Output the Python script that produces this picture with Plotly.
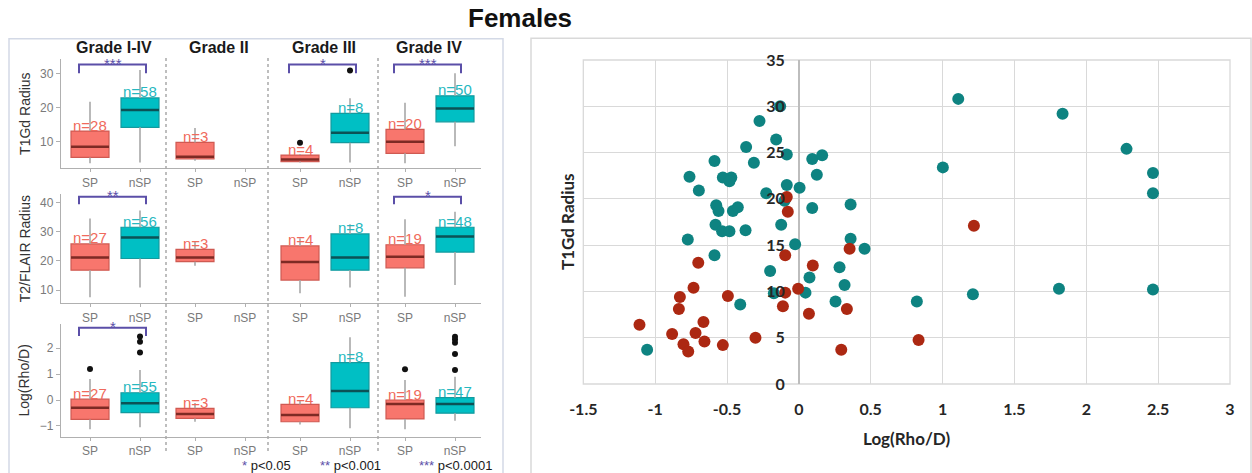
import plotly.graph_objects as go

W, H = 1252, 473

# ---------------- Left panel data (box plots) ----------------
facets = ["Grade I-IV", "Grade II", "Grade III", "Grade IV"]
groups = ["SP", "nSP"]
row_titles = ["T1Gd Radius", "T2/FLAIR Radius", "Log(Rho/D)"]
row_ticks = [[10, 20, 30], [10, 20, 30, 40], [-1, 0, 1, 2]]

# stats per facet: [lower whisker, q1, median, q3, upper whisker]; None = no data
t1_sp = [[3.7, 5.4, 8.5, 13.1, 21.7], [4.4, 5.0, 5.6, 9.8, 14.0],
         [3.9, 4.2, 4.8, 6.1, 6.4], [3.7, 6.6, 10.0, 13.6, 21.4]]
t1_nsp = [[3.9, 14.2, 19.3, 22.8, 31.0], None,
          [3.9, 9.7, 12.6, 18.3, 22.7], [8.7, 15.8, 19.7, 23.4, 30.0]]
t1_n_sp = [28, 3, 4, 20]
t1_n_nsp = [58, None, 8, 50]
t1_out_sp = [[], [], [9.7], []]
t1_out_nsp = [[], [], [30.8], []]

t2_sp = [[7.5, 16.8, 21.1, 25.8, 34.5], [18.3, 19.7, 21.1, 23.9, 26.7],
         [8.9, 13.4, 19.6, 25.1, 27.7], [7.7, 17.6, 21.4, 25.5, 34.2]]
t2_nsp = [[10.9, 20.8, 28.0, 31.5, 37.2], None,
          [10.9, 16.8, 21.1, 29.2, 32.5], [11.7, 23.0, 28.3, 31.5, 36.8]]
t2_n_sp = [27, 3, 4, 19]
t2_n_nsp = [56, None, 8, 48]
t2_out_sp = [[], [], [], []]
t2_out_nsp = [[], [], [], []]

lr_sp = [[-1.13, -0.75, -0.30, 0.03, 0.81], [-0.84, -0.71, -0.54, -0.32, -0.12],
         [-0.95, -0.84, -0.58, -0.17, -0.02], [-1.13, -0.73, -0.15, 0.0, 0.77]]
lr_nsp = [[-1.05, -0.49, -0.13, 0.28, 1.16], None,
          [-1.09, -0.30, 0.35, 1.44, 2.42], [-0.80, -0.51, -0.15, 0.09, 0.90]]
lr_n_sp = [27, 3, 4, 19]
lr_n_nsp = [55, None, 8, 47]
lr_out_sp = [[1.2], [], [], [1.19]]
lr_out_nsp = [[1.83, 2.25, 2.45], [], [], [1.16, 1.78, 2.21, 2.34, 2.44]]

# significance brackets: (facet index, stars)
t1_sig = [(0, "***"), (2, "*"), (3, "***")]
t2_sig = [(0, "**"), (3, "*")]
lr_sig = [(0, "*")]
sig_legend = [("*", "p<0.05"), ("**", "p<0.001"), ("***", "p<0.0001")]

# ---------------- Right panel data (scatter) ----------------
nsp_x = [-0.13, -0.274, -0.158, -0.367, -0.084, 0.093, 0.162, -0.587, -0.313, -0.761,
         0.125, -0.529, -0.47, -0.483, -0.696, -0.084, 0.005, -0.227, -0.1, -0.575,
         -0.559, -0.459, -0.425, 0.093, 0.36, -0.58, -0.534, -0.483, -0.371, -0.123,
         -0.773, 0.36, -0.026, 0.457, -0.587, -0.2, 0.283, 0.074, 0.318, 0.046,
         -0.174, 0.255, -0.408, -1.056, 1.109, 1.835, 2.28, 1.002, 2.464, 2.464,
         0.821, 1.211, 1.81, 2.464]
nsp_y = [30.0, 28.4, 26.4, 25.6, 24.8, 24.3, 24.7, 24.1, 23.9, 22.4,
         22.6, 22.3, 22.3, 21.9, 20.9, 21.5, 21.2, 20.6, 19.8, 19.3,
         18.7, 18.7, 19.1, 19.0, 19.4, 17.2, 16.5, 16.5, 16.6, 17.2,
         15.6, 15.7, 15.1, 14.6, 13.9, 12.2, 12.6, 11.5, 10.7, 9.87,
         9.8, 8.9, 8.6, 3.7, 30.8, 29.2, 25.4, 23.4, 22.8, 20.6,
         8.9, 9.7, 10.3, 10.2]
sp_x = [-0.084, -0.077, -0.095, 0.097, 0.353, -0.70, -0.733, -0.005, -0.095, -0.494,
        -0.828, -0.835, -0.111, 0.334, 0.07, -1.109, -0.664, -0.882, -0.719, -0.657,
        -0.803, -0.77, -0.529, -0.302, 0.295, 1.218, 0.833]
sp_y = [20.2, 18.6, 13.9, 12.8, 14.6, 13.1, 10.4, 10.3, 9.87, 9.5,
        9.4, 8.1, 8.4, 8.1, 7.6, 6.4, 6.7, 5.4, 5.5, 4.6,
        4.3, 3.5, 4.2, 5.0, 3.7, 17.1, 4.75]
x_tick_vals = [-1.5, -1, -0.5, 0, 0.5, 1, 1.5, 2, 2.5, 3]
x_tick_text = ["-1.5", "-1", "-0.5", "0", "0.5", "1", "1.5", "2", "2.5", "3"]
y_tick_vals = [0, 5, 10, 15, 20, 25, 30, 35]

# ---------------- styling ----------------
def px(v):
    return v / W

def py(v):
    return 1 - v / H

SP_FILL, SP_LINE, SP_MED, SP_TXT = "#F8766D", "#cf5a52", "#7e2a24", "#f06a5c"
NSP_FILL, NSP_LINE, NSP_MED, NSP_TXT = "#00BFC4", "#139a9e", "#0b5256", "#27b8c0"
WHISK = "#a8a8a8"
AXC = "#b0b0b0"
TICKC = "#7a7a7a"
PURPLE = "#5b4fa8"
TEAL = "#0e8381"
RED = "#ac2812"
FACET_W = 105
GROUP_OFF = {"SP": 29, "nSP": 79}
BOX_W = 38
ARIAL = "Liberation Sans, Arial"

rows = [
    dict(sp=t1_sp, nsp=t1_nsp, n_sp=t1_n_sp, n_nsp=t1_n_nsp, out_sp=t1_out_sp,
         out_nsp=t1_out_nsp, sig=t1_sig, br=(30.0, 32.6),
         dom=(168.3, 59), rng=[2.22, 34.18]),
    dict(sp=t2_sp, nsp=t2_nsp, n_sp=t2_n_sp, n_nsp=t2_n_nsp, out_sp=t2_out_sp,
         out_nsp=t2_out_nsp, sig=t2_sig, br=(39.4, 41.9),
         dom=(303.3, 194), rng=[5.45, 42.88]),
    dict(sp=lr_sp, nsp=lr_nsp, n_sp=lr_n_sp, n_nsp=lr_n_nsp, out_sp=lr_out_sp,
         out_nsp=lr_out_nsp, sig=lr_sig, br=(2.47, 2.79),
         dom=(436.7, 324), rng=[-1.417, 2.934]),
]

fig = go.Figure()
annotations = []
shapes = []

def pos(f, g):
    return f * FACET_W + GROUP_OFF[g]

for r, row in enumerate(rows):
    xa = "x" if r == 0 else f"x{r+1}"
    ya = "y" if r == 0 else f"y{r+1}"
    for g, stats, ns, outs, fill, lc, mc, tc in [
        ("SP", row["sp"], row["n_sp"], row["out_sp"], SP_FILL, SP_LINE, SP_MED, SP_TXT),
        ("nSP", row["nsp"], row["n_nsp"], row["out_nsp"], NSP_FILL, NSP_LINE, NSP_MED, NSP_TXT),
    ]:
        xs, q1, med, q3 = [], [], [], []
        wx, wy, mx, my, ox, oy = [], [], [], [], [], []
        for f, s in enumerate(stats):
            if s is None:
                continue
            x = pos(f, g)
            xs.append(x); q1.append(s[1]); med.append(s[2]); q3.append(s[3])
            wx += [x, x, None, x, x, None]
            wy += [s[0], s[1], None, s[3], s[4], None]
            mx += [x - BOX_W / 2, x + BOX_W / 2, None]
            my += [s[2], s[2], None]
            for o in outs[f]:
                ox.append(x); oy.append(o)
            annotations.append(dict(x=x, y=s[3], xref=xa, yref=ya, text=f"n={ns[f]}",
                                    showarrow=False, xanchor="center", yanchor="middle", yshift=6,
                                    font=dict(family=ARIAL, size=15, color=tc)))
        fig.add_trace(go.Scatter(x=wx, y=wy, mode="lines", line=dict(color=WHISK, width=1.6),
                                 xaxis=xa, yaxis=ya, showlegend=False, hoverinfo="skip"))
        fig.add_trace(go.Box(x=xs, q1=q1, median=med, q3=q3, lowerfence=q1, upperfence=q3,
                             width=BOX_W, fillcolor=fill, line=dict(color=lc, width=1.2),
                             whiskerwidth=0, boxpoints=False, xaxis=xa, yaxis=ya,
                             showlegend=False, hoverinfo="skip"))
        fig.add_trace(go.Scatter(x=mx, y=my, mode="lines", line=dict(color=mc, width=2.5),
                                 xaxis=xa, yaxis=ya, showlegend=False, hoverinfo="skip"))
        if ox:
            fig.add_trace(go.Scatter(x=ox, y=oy, mode="markers",
                                     marker=dict(color="#111111", size=6),
                                     xaxis=xa, yaxis=ya, showlegend=False, hoverinfo="skip"))
    # significance brackets
    lo, hi = row["br"]
    for f, stars in row["sig"]:
        x0 = pos(f, "SP") - 11
        x1 = pos(f, "nSP") + 6
        fig.add_trace(go.Scatter(x=[x0, x0, x1, x1], y=[lo, hi, hi, lo], mode="lines",
                                 line=dict(color=PURPLE, width=2), xaxis=xa, yaxis=ya,
                                 showlegend=False, hoverinfo="skip"))
        annotations.append(dict(x=(x0 + x1) / 2, y=hi, xref=xa, yref=ya, text=stars,
                                showarrow=False, xanchor="center", yanchor="middle", yshift=1,
                                font=dict(family=ARIAL, size=15, color=PURPLE)))

    ydom = [py(row["dom"][0]), py(row["dom"][1])]
    xaxis = dict(domain=[px(61), px(481)], range=[0, 420], anchor=ya, automargin=False,
                 tickvals=[pos(f, g) for f in range(4) for g in groups],
                 ticktext=[g for f in range(4) for g in groups],
                 showline=True, linecolor=AXC, linewidth=1.3, ticks="outside",
                 ticklen=3, tickcolor=AXC, showgrid=False, zeroline=False,
                 tickfont=dict(family=ARIAL, size=12, color=TICKC))
    yaxis = dict(domain=ydom, range=row["rng"], anchor=xa, tickvals=row_ticks[r],
                 automargin=False,
                 showline=True, linecolor=AXC, linewidth=1.3, ticks="outside",
                 ticklen=4, tickcolor=AXC, showgrid=False, zeroline=False,
                 tickfont=dict(family=ARIAL, size=12, color=TICKC),
                 title=dict(text=row_titles[r], standoff=6,
                            font=dict(family=ARIAL, size=14, color="#333333")))
    key = "" if r == 0 else str(r + 1)
    fig.update_layout(**{f"xaxis{key}": xaxis, f"yaxis{key}": yaxis})

# facet titles
for f, name in enumerate(facets):
    annotations.append(dict(x=f * FACET_W + FACET_W / 2, y=py(47), xref="x", yref="paper",
                            text=f"<b>{name}</b>", showarrow=False,
                            xanchor="center", yanchor="middle",
                            font=dict(family=ARIAL, size=16, color="#1a1a1a")))
# dotted facet separators
for xb in [105, 207, 317]:
    shapes.append(dict(type="line", xref="x", yref="paper", x0=xb, x1=xb,
                       y0=py(58), y1=py(453), line=dict(color="#a9a9a9", width=1.5, dash="dot")))

# significance legend
leg_x = [240, 318, 417]
for (st, lab), lx in zip(sig_legend, leg_x):
    annotations.append(dict(x=px(lx), y=py(465.5), xref="paper", yref="paper",
                            xanchor="left", yanchor="middle",
                            text=f"<span style='color:{PURPLE}'>{st}</span> {lab.replace('<', '&lt;')}",
                            showarrow=False,
                            font=dict(family=ARIAL, size=13, color="#1a1a1a")))

# ---------------- Right panel scatter ----------------
fig.add_trace(go.Scatter(x=nsp_x, y=nsp_y, mode="markers", marker=dict(color=TEAL, size=12),
                         xaxis="x4", yaxis="y4", showlegend=False))
fig.add_trace(go.Scatter(x=sp_x, y=sp_y, mode="markers", marker=dict(color=RED, size=12),
                         xaxis="x4", yaxis="y4", showlegend=False))

sfont = dict(family="Lato, Open Sans", size=16, color="#262626", weight="bold")
x0p, x1p = 583.3, 1230
fig.update_layout(
    xaxis4=dict(domain=[px(x0p), px(x1p)], range=[-1.5, 3], anchor="y4", automargin=False,
                tickvals=x_tick_vals, ticktext=x_tick_text, showgrid=True,
                gridcolor="#d9d9d9", gridwidth=1.3, zeroline=True, zerolinecolor="#bdbdbd",
                zerolinewidth=1.6, showline=False, ticks="", tickfont=sfont,
                ticklabelstandoff=14),
    yaxis4=dict(domain=[py(384), py(60)], range=[0, 35], anchor="free", automargin=False,
                position=px(x0p) + (0 - (-1.5)) / 4.5 * (px(x1p) - px(x0p)),
                tickvals=y_tick_vals, showgrid=True, gridcolor="#d9d9d9", gridwidth=1.3,
                zeroline=False, showline=False, ticks="", tickfont=sfont,
                ticklabelstandoff=14),
)
shapes.append(dict(type="rect", xref="x4 domain", yref="y4 domain", x0=0, x1=1, y0=0, y1=1,
                   line=dict(color="#d9d9d9", width=1.3), layer="below"))
annotations.append(dict(x=px(567), y=py(222), xref="paper", yref="paper", text="T1Gd Radius",
                        textangle=-90, showarrow=False, xanchor="center", yanchor="middle",
                        font=dict(family="Lato, Open Sans", size=17, color="#262626", weight="bold")))
annotations.append(dict(x=px(906), y=py(438), xref="paper", yref="paper", text="Log(Rho/D)",
                        showarrow=False, xanchor="center", yanchor="middle",
                        font=dict(family="Lato, Open Sans", size=17, color="#262626", weight="bold")))

# panel frames
shapes.append(dict(type="rect", xref="paper", yref="paper", x0=px(9), x1=px(503),
                   y0=py(490), y1=py(38.7), line=dict(color="#d3d9e6", width=1.5)))
shapes.append(dict(type="rect", xref="paper", yref="paper", x0=px(531), x1=px(1251),
                   y0=py(490), y1=py(38.3), line=dict(color="#d9d9d9", width=1.5)))

# main title
annotations.append(dict(x=px(520), y=py(18), xref="paper", yref="paper", text="<b>Females</b>",
                        showarrow=False, xanchor="center", yanchor="middle",
                        font=dict(family=ARIAL, size=26, color="#111111")))

fig.update_layout(width=W, height=H, autosize=False,
                  margin=dict(l=0, r=0, t=0, b=0, pad=0, autoexpand=False),
                  paper_bgcolor="white", plot_bgcolor="white",
                  annotations=annotations, shapes=shapes, showlegend=False)

fig.write_html("out.html")
